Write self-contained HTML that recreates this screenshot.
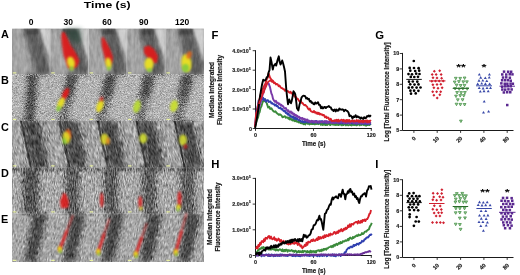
<!DOCTYPE html>
<html><head><meta charset="utf-8"><style>
html,body{margin:0;padding:0;background:#fff;width:520px;height:275px;overflow:hidden}
svg{display:block}
text{font-family:"Liberation Sans",sans-serif}
.k{stroke:#1a1a1a;stroke-width:0.16px}
</style></head><body>
<svg width="520" height="275" viewBox="0 0 520 275">
<defs>
<filter id="b0" x="-50%" y="-50%" width="200%" height="200%"><feGaussianBlur stdDeviation="0.5"/></filter>
<filter id="b1" x="-50%" y="-50%" width="200%" height="200%"><feGaussianBlur stdDeviation="1.2"/></filter>
<filter id="b2" x="-50%" y="-50%" width="200%" height="200%"><feGaussianBlur stdDeviation="2.5"/></filter>
<filter id="nzA" x="0" y="0" width="100%" height="100%" color-interpolation-filters="sRGB"><feTurbulence type="fractalNoise" baseFrequency="0.35 0.12" numOctaves="2" seed="3"/><feColorMatrix type="matrix" values="0.6 0 0 0 0.2  0.6 0 0 0 0.2  0.6 0 0 0 0.2  0 0 0 0 1"/></filter>
<filter id="nzB" x="0" y="0" width="100%" height="100%" color-interpolation-filters="sRGB"><feTurbulence type="fractalNoise" baseFrequency="1.5 1.1" numOctaves="2" seed="5"/><feColorMatrix type="matrix" values="1.3 0 0 0 -0.15  1.3 0 0 0 -0.15  1.3 0 0 0 -0.15  0 0 0 0 1"/></filter>
<filter id="nzC" x="0" y="0" width="100%" height="100%" color-interpolation-filters="sRGB"><feTurbulence type="fractalNoise" baseFrequency="0.9 0.18" numOctaves="2" seed="9"/><feColorMatrix type="matrix" values="1.1 0 0 0 -0.05  1.1 0 0 0 -0.05  1.1 0 0 0 -0.05  0 0 0 0 1"/></filter>
<filter id="nzD" x="0" y="0" width="100%" height="100%" color-interpolation-filters="sRGB"><feTurbulence type="fractalNoise" baseFrequency="0.9 0.25" numOctaves="2" seed="13"/><feColorMatrix type="matrix" values="1.0 0 0 0 0  1.0 0 0 0 0  1.0 0 0 0 0  0 0 0 0 1"/></filter>
<clipPath id="cC"><rect x="12" y="121" width="192" height="46.5"/></clipPath>
<clipPath id="cD"><rect x="12" y="167.5" width="192" height="46"/></clipPath>
<clipPath id="cE"><rect x="12" y="213.5" width="192" height="48.5"/></clipPath>
<linearGradient id="gblob" x1="0" y1="0" x2="0" y2="1">
<stop offset="0" stop-color="#e21c1c"/><stop offset="0.55" stop-color="#e8401a"/><stop offset="0.75" stop-color="#f2d21e"/><stop offset="1" stop-color="#7ed23a"/>
</linearGradient>
<linearGradient id="gyg" x1="0" y1="0" x2="0" y2="1">
<stop offset="0" stop-color="#f0a020"/><stop offset="0.4" stop-color="#e8e02a"/><stop offset="1" stop-color="#8ed040"/>
</linearGradient>
<clipPath id="cg"><rect x="12" y="28.5" width="192" height="233.5"/></clipPath>
</defs>

<g clip-path="url(#cg)">
<rect x="12" y="28.5" width="192" height="46" fill="#949494"/>
<rect x="12" y="74.5" width="192" height="46.5" fill="#b2b2b2"/>
<rect x="12" y="121" width="192" height="46.5" fill="#9a9a9a"/>
<rect x="12" y="167.5" width="192" height="46" fill="#a8a8a8"/>
<rect x="12" y="213.5" width="192" height="48.5" fill="#a6a6a6"/>
<polygon points="12,28.5 22,28.5 35,74.5 12,74.5" fill="#aaaaaa" opacity="0.75" filter="url(#b2)"/>
<polygon points="24,28.5 38,28.5 50.4,67.6 50.4,74.5 36,74.5" fill="#505050" opacity="0.8" filter="url(#b2)"/>
<polygon points="39.5,28.5 50.4,28.5 50.4,61.6" fill="#d2d2d2" opacity="0.95" filter="url(#b1)"/>
<polygon points="24,28.5 38,28.5 39,34.5 26,34.5" fill="#363636" opacity="0.6" filter="url(#b1)"/>
<polygon points="50.4,28.5 60.4,28.5 73.4,74.5 50.4,74.5" fill="#aaaaaa" opacity="0.75" filter="url(#b2)"/>
<polygon points="62.4,28.5 76.4,28.5 88.8,67.6 88.8,74.5 74.4,74.5" fill="#505050" opacity="0.8" filter="url(#b2)"/>
<polygon points="77.9,28.5 88.8,28.5 88.8,61.6" fill="#d2d2d2" opacity="0.95" filter="url(#b1)"/>
<polygon points="62.4,28.5 76.4,28.5 77.4,34.5 64.4,34.5" fill="#363636" opacity="0.6" filter="url(#b1)"/>
<polygon points="88.8,28.5 98.8,28.5 111.8,74.5 88.8,74.5" fill="#aaaaaa" opacity="0.75" filter="url(#b2)"/>
<polygon points="100.8,28.5 114.8,28.5 127.2,67.6 127.2,74.5 112.8,74.5" fill="#505050" opacity="0.8" filter="url(#b2)"/>
<polygon points="116.3,28.5 127.2,28.5 127.2,61.6" fill="#d2d2d2" opacity="0.95" filter="url(#b1)"/>
<polygon points="100.8,28.5 114.8,28.5 115.8,34.5 102.8,34.5" fill="#363636" opacity="0.6" filter="url(#b1)"/>
<polygon points="127.2,28.5 137.2,28.5 150.2,74.5 127.2,74.5" fill="#aaaaaa" opacity="0.75" filter="url(#b2)"/>
<polygon points="139.2,28.5 153.2,28.5 165.6,67.6 165.6,74.5 151.2,74.5" fill="#505050" opacity="0.8" filter="url(#b2)"/>
<polygon points="154.7,28.5 165.6,28.5 165.6,61.6" fill="#d2d2d2" opacity="0.95" filter="url(#b1)"/>
<polygon points="139.2,28.5 153.2,28.5 154.2,34.5 141.2,34.5" fill="#363636" opacity="0.6" filter="url(#b1)"/>
<polygon points="165.6,28.5 175.6,28.5 188.6,74.5 165.6,74.5" fill="#aaaaaa" opacity="0.75" filter="url(#b2)"/>
<polygon points="177.6,28.5 191.6,28.5 204,67.6 204,74.5 189.6,74.5" fill="#505050" opacity="0.8" filter="url(#b2)"/>
<polygon points="193.1,28.5 204,28.5 204,61.6" fill="#d2d2d2" opacity="0.95" filter="url(#b1)"/>
<polygon points="177.6,28.5 191.6,28.5 192.6,34.5 179.6,34.5" fill="#363636" opacity="0.6" filter="url(#b1)"/>
<polygon points="27,74.5 38,74.5 35,121 24.5,121" fill="#555555" opacity="0.85" filter="url(#b2)"/>
<polygon points="30,74.5 35,74.5 32,121 27,121" fill="#3a3a3a" opacity="0.6" filter="url(#b2)"/>
<polygon points="66.9,74.5 77.9,74.5 66.9,121 57.9,121" fill="#5e5e5e" opacity="0.75" filter="url(#b2)"/>
<polygon points="67.9,74.5 77.4,74.5 72.4,97.8 63.4,97.8" fill="#3e3e3e" opacity="0.7" filter="url(#b2)"/>
<polygon points="105.3,74.5 116.3,74.5 105.3,121 96.3,121" fill="#5e5e5e" opacity="0.75" filter="url(#b2)"/>
<polygon points="106.3,74.5 115.8,74.5 110.8,97.8 101.8,97.8" fill="#3e3e3e" opacity="0.7" filter="url(#b2)"/>
<polygon points="143.7,74.5 154.7,74.5 143.7,121 134.7,121" fill="#5e5e5e" opacity="0.75" filter="url(#b2)"/>
<polygon points="144.7,74.5 154.2,74.5 149.2,97.8 140.2,97.8" fill="#3e3e3e" opacity="0.7" filter="url(#b2)"/>
<polygon points="182.1,74.5 193.1,74.5 182.1,121 173.1,121" fill="#5e5e5e" opacity="0.75" filter="url(#b2)"/>
<polygon points="183.1,74.5 192.6,74.5 187.6,97.8 178.6,97.8" fill="#3e3e3e" opacity="0.7" filter="url(#b2)"/>
<polygon points="21,121 39,121 49,167.5 32,167.5" fill="#3e3e3e" opacity="0.85" filter="url(#b2)"/>
<polygon points="20,121 22,121 32,167.5 30,167.5" fill="#1e1e1e" opacity="0.9" filter="url(#b0)"/>
<polygon points="12,121 19.5,121 29.5,167.5 12,167.5" fill="#b0b0b0" opacity="0.55" filter="url(#b2)"/>
<polygon points="59.4,121 77.4,121 87.4,167.5 70.4,167.5" fill="#3e3e3e" opacity="0.85" filter="url(#b2)"/>
<polygon points="58.4,121 60.4,121 70.4,167.5 68.4,167.5" fill="#1e1e1e" opacity="0.9" filter="url(#b0)"/>
<polygon points="50.4,121 57.9,121 67.9,167.5 50.4,167.5" fill="#b0b0b0" opacity="0.55" filter="url(#b2)"/>
<polygon points="97.8,121 115.8,121 125.8,167.5 108.8,167.5" fill="#3e3e3e" opacity="0.85" filter="url(#b2)"/>
<polygon points="96.8,121 98.8,121 108.8,167.5 106.8,167.5" fill="#1e1e1e" opacity="0.9" filter="url(#b0)"/>
<polygon points="88.8,121 96.3,121 106.3,167.5 88.8,167.5" fill="#b0b0b0" opacity="0.55" filter="url(#b2)"/>
<polygon points="136.2,121 154.2,121 164.2,167.5 147.2,167.5" fill="#3e3e3e" opacity="0.85" filter="url(#b2)"/>
<polygon points="135.2,121 137.2,121 147.2,167.5 145.2,167.5" fill="#1e1e1e" opacity="0.9" filter="url(#b0)"/>
<polygon points="127.2,121 134.7,121 144.7,167.5 127.2,167.5" fill="#b0b0b0" opacity="0.55" filter="url(#b2)"/>
<polygon points="174.6,121 192.6,121 202.6,167.5 185.6,167.5" fill="#3e3e3e" opacity="0.85" filter="url(#b2)"/>
<polygon points="173.6,121 175.6,121 185.6,167.5 183.6,167.5" fill="#1e1e1e" opacity="0.9" filter="url(#b0)"/>
<polygon points="165.6,121 173.1,121 183.1,167.5 165.6,167.5" fill="#b0b0b0" opacity="0.55" filter="url(#b2)"/>
<polygon points="23,167.5 39,167.5 39,213.5 23,213.5" fill="#444444" opacity="0.85" filter="url(#b2)"/>
<polygon points="12,167.5 50.4,167.5 50.4,171.5 12,171.5" fill="#505050" opacity="0.5" filter="url(#b1)"/>
<polygon points="65.4,167.5 79.4,167.5 79.4,213.5 65.4,213.5" fill="#484848" opacity="0.8" filter="url(#b2)"/>
<polygon points="50.4,167.5 88.8,167.5 88.8,171.5 50.4,171.5" fill="#505050" opacity="0.5" filter="url(#b1)"/>
<polygon points="103.8,167.5 117.8,167.5 117.8,213.5 103.8,213.5" fill="#484848" opacity="0.8" filter="url(#b2)"/>
<polygon points="88.8,167.5 127.2,167.5 127.2,171.5 88.8,171.5" fill="#505050" opacity="0.5" filter="url(#b1)"/>
<polygon points="142.2,167.5 156.2,167.5 156.2,213.5 142.2,213.5" fill="#484848" opacity="0.8" filter="url(#b2)"/>
<polygon points="127.2,167.5 165.6,167.5 165.6,171.5 127.2,171.5" fill="#505050" opacity="0.5" filter="url(#b1)"/>
<polygon points="180.6,167.5 194.6,167.5 194.6,213.5 180.6,213.5" fill="#484848" opacity="0.8" filter="url(#b2)"/>
<polygon points="165.6,167.5 204,167.5 204,171.5 165.6,171.5" fill="#505050" opacity="0.5" filter="url(#b1)"/>
<polygon points="33,213.5 47,213.5 36.5,262 24.5,262" fill="#3c3c3c" opacity="0.9" filter="url(#b2)"/>
<polygon points="71.4,213.5 85.4,213.5 74.9,262 62.9,262" fill="#3c3c3c" opacity="0.9" filter="url(#b2)"/>
<polygon points="109.8,213.5 123.8,213.5 113.3,262 101.3,262" fill="#3c3c3c" opacity="0.9" filter="url(#b2)"/>
<polygon points="148.2,213.5 162.2,213.5 151.7,262 139.7,262" fill="#3c3c3c" opacity="0.9" filter="url(#b2)"/>
<polygon points="186.6,213.5 200.6,213.5 190.1,262 178.1,262" fill="#3c3c3c" opacity="0.9" filter="url(#b2)"/>
</g>
<rect x="12" y="28.5" width="192" height="46" fill="#000" filter="url(#nzA)" opacity="0.45" style="mix-blend-mode:overlay"/>
<rect x="12" y="74.5" width="192" height="46.5" fill="#000" filter="url(#nzB)" opacity="0.75" style="mix-blend-mode:overlay"/>
<g clip-path="url(#cC)" style="mix-blend-mode:overlay"><rect x="-10" y="90" width="240" height="110" fill="#000" filter="url(#nzC)" transform="rotate(-14.5 108 144)"/></g>
<g clip-path="url(#cD)" style="mix-blend-mode:overlay"><rect x="0" y="150" width="220" height="80" fill="#000" filter="url(#nzD)"/></g>
<g clip-path="url(#cE)" style="mix-blend-mode:overlay"><rect x="-10" y="190" width="240" height="100" fill="#000" filter="url(#nzD)" transform="rotate(10.5 108 238)"/></g>
<rect x="49.6" y="29" width="0.8" height="45.5" fill="#d8d8d8" opacity="0.6"/>
<rect x="88" y="29" width="0.8" height="45.5" fill="#d8d8d8" opacity="0.6"/>
<rect x="126.4" y="29" width="0.8" height="45.5" fill="#d8d8d8" opacity="0.6"/>
<rect x="164.8" y="29" width="0.8" height="45.5" fill="#d8d8d8" opacity="0.6"/>
<polygon points="65,29 81,29 81,46 70,40" fill="#2e4a3c" filter="url(#b2)" opacity="0.7"/>
<polygon points="62,32 64.5,32 67.5,38 70.5,45 74,50 77,55 79.5,61 77,67 72,69 68,68 66,62 63.5,55 62,45 61.3,37" fill="#dc1e1e" filter="url(#b1)" opacity="0.95"/>
<ellipse cx="71" cy="62.5" rx="3.8" ry="6" transform="rotate(-15 71 62.5)" fill="#e6dc28" filter="url(#b1)" opacity="1"/>
<ellipse cx="71.5" cy="68.5" rx="2.2" ry="2.2" transform="rotate(0 71.5 68.5)" fill="#8ccc3c" filter="url(#b1)" opacity="1"/>
<polygon points="101.5,38 103.5,37 107,43 110.5,50 113,57 112.5,62 109,66 106,62 104,55 102,47" fill="#dc1e1e" filter="url(#b1)" opacity="0.95"/>
<ellipse cx="108.5" cy="63" rx="3" ry="5.5" transform="rotate(-10 108.5 63)" fill="#e6dc28" filter="url(#b1)" opacity="1"/>
<ellipse cx="108.8" cy="68.5" rx="1.8" ry="2" transform="rotate(0 108.8 68.5)" fill="#8ccc3c" filter="url(#b1)" opacity="1"/>
<polygon points="144,47 149,45.5 154,49 158,56 157,63 152,63 147,57 144,53" fill="#dc1e1e" filter="url(#b1)" opacity="0.95"/>
<ellipse cx="149" cy="64" rx="4.5" ry="6.5" transform="rotate(0 149 64)" fill="#e6dc28" filter="url(#b1)" opacity="1"/>
<ellipse cx="149.5" cy="70" rx="2.5" ry="2" transform="rotate(0 149.5 70)" fill="#8ccc3c" filter="url(#b1)" opacity="1"/>
<ellipse cx="186.5" cy="63" rx="5" ry="9" transform="rotate(-8 186.5 63)" fill="#e6dc28" filter="url(#b1)" opacity="1"/>
<ellipse cx="185.5" cy="68" rx="3.5" ry="4" transform="rotate(0 185.5 68)" fill="#8ccc3c" filter="url(#b1)" opacity="1"/>
<ellipse cx="189" cy="55" rx="2.5" ry="4" transform="rotate(20 189 55)" fill="#e86a1e" filter="url(#b1)" opacity="0.85"/>
<ellipse cx="65.5" cy="94" rx="2.8" ry="6.5" transform="rotate(25 65.5 94)" fill="#dc1e1e" filter="url(#b1)" opacity="1"/>
<ellipse cx="61" cy="103" rx="3" ry="6" transform="rotate(25 61 103)" fill="#e6dc28" filter="url(#b1)" opacity="1"/>
<ellipse cx="58.5" cy="108.5" rx="2" ry="3" transform="rotate(25 58.5 108.5)" fill="#8ccc3c" filter="url(#b1)" opacity="1"/>
<ellipse cx="100" cy="106" rx="3.2" ry="6.5" transform="rotate(20 100 106)" fill="#e6dc28" filter="url(#b1)" opacity="1"/>
<ellipse cx="101.5" cy="99" rx="1.8" ry="2.5" transform="rotate(20 101.5 99)" fill="#dc1e1e" filter="url(#b1)" opacity="0.8"/>
<ellipse cx="137" cy="106.5" rx="3.5" ry="6.5" transform="rotate(15 137 106.5)" fill="#b8d83a" filter="url(#b1)" opacity="1"/>
<ellipse cx="174" cy="106" rx="3.8" ry="6" transform="rotate(15 174 106)" fill="#c8dc34" filter="url(#b1)" opacity="1"/>
<ellipse cx="68.5" cy="134" rx="2.6" ry="5" transform="rotate(-10 68.5 134)" fill="#e05a1e" filter="url(#b1)" opacity="0.9"/>
<ellipse cx="66.5" cy="137.5" rx="3.6" ry="6" transform="rotate(-10 66.5 137.5)" fill="#e6dc28" filter="url(#b1)" opacity="0.9"/>
<ellipse cx="64.5" cy="141" rx="2" ry="3.5" transform="rotate(-10 64.5 141)" fill="#8ccc3c" filter="url(#b1)" opacity="0.9"/>
<ellipse cx="104.5" cy="139" rx="3.8" ry="5.5" transform="rotate(0 104.5 139)" fill="#dcd82a" filter="url(#b1)" opacity="0.9"/>
<ellipse cx="108" cy="141" rx="1.8" ry="3.5" transform="rotate(0 108 141)" fill="#ec8a1e" filter="url(#b1)" opacity="0.85"/>
<ellipse cx="143.2" cy="138.5" rx="3.8" ry="5" transform="rotate(0 143.2 138.5)" fill="#d0dc30" filter="url(#b1)" opacity="0.9"/>
<ellipse cx="183" cy="140" rx="3.8" ry="5.5" transform="rotate(0 183 140)" fill="#d4dc30" filter="url(#b1)" opacity="0.9"/>
<ellipse cx="185.5" cy="146.5" rx="1.8" ry="2.6" transform="rotate(0 185.5 146.5)" fill="#dc1e1e" filter="url(#b1)" opacity="0.7"/>
<polygon points="63.5,192.5 66,194 69,202 68,208 61,208 60,201" fill="#dc1e1e" filter="url(#b1)" opacity="0.9"/>
<ellipse cx="101.7" cy="200" rx="1.8" ry="7.5" transform="rotate(0 101.7 200)" fill="#dc1e1e" filter="url(#b1)" opacity="0.85"/>
<ellipse cx="140.3" cy="202" rx="1.9" ry="6" transform="rotate(0 140.3 202)" fill="#dc1e1e" filter="url(#b1)" opacity="0.85"/>
<ellipse cx="141" cy="208.5" rx="1.6" ry="2" transform="rotate(0 141 208.5)" fill="#e6dc28" filter="url(#b1)" opacity="0.8"/>
<ellipse cx="179.5" cy="199" rx="2" ry="8" transform="rotate(0 179.5 199)" fill="#dc1e1e" filter="url(#b1)" opacity="0.85"/>
<ellipse cx="178.5" cy="207" rx="2.2" ry="2.8" transform="rotate(0 178.5 207)" fill="#e6dc28" filter="url(#b1)" opacity="0.9"/>
<ellipse cx="178" cy="210" rx="1.4" ry="1.4" transform="rotate(0 178 210)" fill="#8ccc3c" filter="url(#b1)" opacity="1"/>
<line x1="72.6" y1="216" x2="59.5" y2="250" stroke="#dc1e1e" stroke-width="2.1" stroke-linecap="round" filter="url(#b1)" opacity="0.5"/>
<line x1="66.7" y1="231.3" x2="59.5" y2="250" stroke="#dc1e1e" stroke-width="2.4" stroke-linecap="round" filter="url(#b1)" opacity="0.8"/>
<ellipse cx="59.8" cy="249" rx="2" ry="2.8" transform="rotate(0 59.8 249)" fill="#e6dc28" filter="url(#b1)" opacity="1"/>
<ellipse cx="60.3" cy="251.5" rx="1.5" ry="1.5" transform="rotate(0 60.3 251.5)" fill="#8ccc3c" filter="url(#b1)" opacity="1"/>
<line x1="109" y1="219.6" x2="98" y2="252.5" stroke="#dc1e1e" stroke-width="2.1" stroke-linecap="round" filter="url(#b1)" opacity="0.5"/>
<line x1="104" y1="234.4" x2="98" y2="252.5" stroke="#dc1e1e" stroke-width="2.4" stroke-linecap="round" filter="url(#b1)" opacity="0.8"/>
<ellipse cx="98.3" cy="251.5" rx="2" ry="2.8" transform="rotate(0 98.3 251.5)" fill="#e6dc28" filter="url(#b1)" opacity="1"/>
<ellipse cx="98.8" cy="254" rx="1.5" ry="1.5" transform="rotate(0 98.8 254)" fill="#8ccc3c" filter="url(#b1)" opacity="1"/>
<line x1="146.5" y1="224" x2="135.5" y2="255" stroke="#dc1e1e" stroke-width="2.1" stroke-linecap="round" filter="url(#b1)" opacity="0.5"/>
<line x1="141.6" y1="237.9" x2="135.5" y2="255" stroke="#dc1e1e" stroke-width="2.4" stroke-linecap="round" filter="url(#b1)" opacity="0.8"/>
<ellipse cx="135.8" cy="254" rx="2" ry="2.8" transform="rotate(0 135.8 254)" fill="#e6dc28" filter="url(#b1)" opacity="1"/>
<ellipse cx="136.3" cy="256.5" rx="1.5" ry="1.5" transform="rotate(0 136.3 256.5)" fill="#8ccc3c" filter="url(#b1)" opacity="1"/>
<line x1="186.3" y1="214" x2="175.5" y2="253" stroke="#dc1e1e" stroke-width="2.1" stroke-linecap="round" filter="url(#b1)" opacity="0.5"/>
<line x1="181.4" y1="231.6" x2="175.5" y2="253" stroke="#dc1e1e" stroke-width="2.4" stroke-linecap="round" filter="url(#b1)" opacity="0.8"/>
<ellipse cx="175.8" cy="252" rx="2" ry="2.8" transform="rotate(0 175.8 252)" fill="#e6dc28" filter="url(#b1)" opacity="1"/>
<ellipse cx="176.3" cy="254.5" rx="1.5" ry="1.5" transform="rotate(0 176.3 254.5)" fill="#8ccc3c" filter="url(#b1)" opacity="1"/>
<rect x="12.8" y="72.3" width="3.5" height="1.2" fill="#e8f0a0"/>
<rect x="51.2" y="72.3" width="3.5" height="1.2" fill="#e8f0a0"/>
<rect x="89.6" y="72.3" width="3.5" height="1.2" fill="#e8f0a0"/>
<rect x="128" y="72.3" width="3.5" height="1.2" fill="#e8f0a0"/>
<rect x="166.4" y="72.3" width="3.5" height="1.2" fill="#e8f0a0"/>
<rect x="12.8" y="118.8" width="3.5" height="1.2" fill="#e8f0a0"/>
<rect x="51.2" y="118.8" width="3.5" height="1.2" fill="#e8f0a0"/>
<rect x="89.6" y="118.8" width="3.5" height="1.2" fill="#e8f0a0"/>
<rect x="128" y="118.8" width="3.5" height="1.2" fill="#e8f0a0"/>
<rect x="166.4" y="118.8" width="3.5" height="1.2" fill="#e8f0a0"/>
<rect x="12.8" y="165.3" width="3.5" height="1.2" fill="#e8f0a0"/>
<rect x="51.2" y="165.3" width="3.5" height="1.2" fill="#e8f0a0"/>
<rect x="89.6" y="165.3" width="3.5" height="1.2" fill="#e8f0a0"/>
<rect x="128" y="165.3" width="3.5" height="1.2" fill="#e8f0a0"/>
<rect x="166.4" y="165.3" width="3.5" height="1.2" fill="#e8f0a0"/>
<rect x="12.8" y="211.3" width="3.5" height="1.2" fill="#e8f0a0"/>
<rect x="51.2" y="211.3" width="3.5" height="1.2" fill="#e8f0a0"/>
<rect x="89.6" y="211.3" width="3.5" height="1.2" fill="#e8f0a0"/>
<rect x="128" y="211.3" width="3.5" height="1.2" fill="#e8f0a0"/>
<rect x="166.4" y="211.3" width="3.5" height="1.2" fill="#e8f0a0"/>
<rect x="12.8" y="259.8" width="3.5" height="1.2" fill="#e8f0a0"/>
<rect x="51.2" y="259.8" width="3.5" height="1.2" fill="#e8f0a0"/>
<rect x="89.6" y="259.8" width="3.5" height="1.2" fill="#e8f0a0"/>
<rect x="128" y="259.8" width="3.5" height="1.2" fill="#e8f0a0"/>
<rect x="166.4" y="259.8" width="3.5" height="1.2" fill="#e8f0a0"/>
<text x="83.8" y="8.1" font-size="9.6" font-weight="bold" textLength="46.8" lengthAdjust="spacingAndGlyphs">Time (s)</text>
<text x="31.1" y="24.8" font-size="8.5" font-weight="bold" text-anchor="middle">0</text>
<text x="68.2" y="24.8" font-size="8.5" font-weight="bold" text-anchor="middle">30</text>
<text x="107" y="24.8" font-size="8.5" font-weight="bold" text-anchor="middle">60</text>
<text x="143.8" y="24.8" font-size="8.5" font-weight="bold" text-anchor="middle">90</text>
<text x="182.1" y="24.8" font-size="8.5" font-weight="bold" text-anchor="middle">120</text>
<text x="0.9" y="38.2" font-size="10.9" font-weight="bold">A</text>
<text x="0.9" y="84.3" font-size="10.9" font-weight="bold">B</text>
<text x="0.9" y="130.5" font-size="10.9" font-weight="bold">C</text>
<text x="0.9" y="176.6" font-size="10.9" font-weight="bold">D</text>
<text x="0.9" y="222.8" font-size="10.9" font-weight="bold">E</text>
<path d="M255.5 50.2V128.5H371.8" fill="none" stroke="#1a1a1a" stroke-width="1"/>
<line x1="252.7" y1="128.5" x2="255.5" y2="128.5" stroke="#222" stroke-width="0.9"/>
<text class="k" x="251.9" y="130.5" font-size="5.4" font-weight="bold" text-anchor="end" fill="#222">0</text>
<line x1="252.7" y1="109" x2="255.5" y2="109" stroke="#222" stroke-width="0.9"/>
<text class="k" x="232.3" y="111" font-size="4.7" font-weight="bold" fill="#2a2a2a" textLength="16.4" lengthAdjust="spacingAndGlyphs">1.0×10</text>
<text class="k" x="249.1" y="108.3" font-size="3" font-weight="bold" fill="#444">5</text>
<line x1="252.7" y1="89.6" x2="255.5" y2="89.6" stroke="#222" stroke-width="0.9"/>
<text class="k" x="232.3" y="91.5" font-size="4.7" font-weight="bold" fill="#2a2a2a" textLength="16.4" lengthAdjust="spacingAndGlyphs">2.0×10</text>
<text class="k" x="249.1" y="88.9" font-size="3" font-weight="bold" fill="#444">5</text>
<line x1="252.7" y1="70.2" x2="255.5" y2="70.2" stroke="#222" stroke-width="0.9"/>
<text class="k" x="232.3" y="72.1" font-size="4.7" font-weight="bold" fill="#2a2a2a" textLength="16.4" lengthAdjust="spacingAndGlyphs">3.0×10</text>
<text class="k" x="249.1" y="69.5" font-size="3" font-weight="bold" fill="#444">5</text>
<line x1="252.7" y1="50.7" x2="255.5" y2="50.7" stroke="#222" stroke-width="0.9"/>
<text class="k" x="232.3" y="52.6" font-size="4.7" font-weight="bold" fill="#2a2a2a" textLength="16.4" lengthAdjust="spacingAndGlyphs">4.0×10</text>
<text class="k" x="249.1" y="50" font-size="3" font-weight="bold" fill="#444">5</text>
<line x1="255.5" y1="128.5" x2="255.5" y2="130.9" stroke="#222" stroke-width="0.9"/>
<text class="k" x="255.5" y="137.3" font-size="5.4" font-weight="bold" text-anchor="middle" fill="#222">0</text>
<line x1="313.5" y1="128.5" x2="313.5" y2="130.9" stroke="#222" stroke-width="0.9"/>
<text class="k" x="313.5" y="137.3" font-size="5.4" font-weight="bold" text-anchor="middle" fill="#222">60</text>
<line x1="371.3" y1="128.5" x2="371.3" y2="130.9" stroke="#222" stroke-width="0.9"/>
<text class="k" x="371.3" y="137.3" font-size="5.4" font-weight="bold" text-anchor="middle" fill="#222">120</text>
<text class="k" x="313.7" y="146.1" font-size="6.6" font-weight="bold" text-anchor="middle" textLength="23.5" lengthAdjust="spacingAndGlyphs" fill="#111">Time (s)</text>
<text x="211.4" y="38.5" font-size="11.3" font-weight="bold">F</text>
<path d="M255.5 177.9V255.5H371.8" fill="none" stroke="#1a1a1a" stroke-width="1"/>
<line x1="252.7" y1="255.5" x2="255.5" y2="255.5" stroke="#222" stroke-width="0.9"/>
<text class="k" x="251.9" y="257.5" font-size="5.4" font-weight="bold" text-anchor="end" fill="#222">0</text>
<line x1="252.7" y1="229.8" x2="255.5" y2="229.8" stroke="#222" stroke-width="0.9"/>
<text class="k" x="232.3" y="231.7" font-size="4.7" font-weight="bold" fill="#2a2a2a" textLength="16.4" lengthAdjust="spacingAndGlyphs">1.0×10</text>
<text class="k" x="249.1" y="229.1" font-size="3" font-weight="bold" fill="#444">5</text>
<line x1="252.7" y1="204.1" x2="255.5" y2="204.1" stroke="#222" stroke-width="0.9"/>
<text class="k" x="232.3" y="206" font-size="4.7" font-weight="bold" fill="#2a2a2a" textLength="16.4" lengthAdjust="spacingAndGlyphs">2.0×10</text>
<text class="k" x="249.1" y="203.4" font-size="3" font-weight="bold" fill="#444">5</text>
<line x1="252.7" y1="178.4" x2="255.5" y2="178.4" stroke="#222" stroke-width="0.9"/>
<text class="k" x="232.3" y="180.3" font-size="4.7" font-weight="bold" fill="#2a2a2a" textLength="16.4" lengthAdjust="spacingAndGlyphs">3.0×10</text>
<text class="k" x="249.1" y="177.7" font-size="3" font-weight="bold" fill="#444">5</text>
<line x1="255.5" y1="255.5" x2="255.5" y2="257.9" stroke="#222" stroke-width="0.9"/>
<text class="k" x="255.5" y="264.3" font-size="5.4" font-weight="bold" text-anchor="middle" fill="#222">0</text>
<line x1="313.5" y1="255.5" x2="313.5" y2="257.9" stroke="#222" stroke-width="0.9"/>
<text class="k" x="313.5" y="264.3" font-size="5.4" font-weight="bold" text-anchor="middle" fill="#222">60</text>
<line x1="371.3" y1="255.5" x2="371.3" y2="257.9" stroke="#222" stroke-width="0.9"/>
<text class="k" x="371.3" y="264.3" font-size="5.4" font-weight="bold" text-anchor="middle" fill="#222">120</text>
<text class="k" x="313.7" y="273.1" font-size="6.6" font-weight="bold" text-anchor="middle" textLength="23.5" lengthAdjust="spacingAndGlyphs" fill="#111">Time (s)</text>
<text x="211.3" y="168.4" font-size="11.3" font-weight="bold">H</text>
<text class="k" transform="translate(214.2 89.9) rotate(-90)" font-size="6.3" font-weight="bold" text-anchor="middle" textLength="56" lengthAdjust="spacingAndGlyphs" fill="#111">Median Integrated</text>
<text class="k" transform="translate(222.4 89.9) rotate(-90)" font-size="6.3" font-weight="bold" text-anchor="middle" textLength="70" lengthAdjust="spacingAndGlyphs" fill="#111">Fluorescence Intensity</text>
<text class="k" transform="translate(212.4 217) rotate(-90)" font-size="6.3" font-weight="bold" text-anchor="middle" textLength="56" lengthAdjust="spacingAndGlyphs" fill="#111">Median Integrated</text>
<text class="k" transform="translate(220.4 217) rotate(-90)" font-size="6.3" font-weight="bold" text-anchor="middle" textLength="69" lengthAdjust="spacingAndGlyphs" fill="#111">Fluorescence Intensity</text>
<polyline points="255,127 256,123 257,119.8 258,117.7 258.9,113.5 259.7,112.1 260.5,108 261.4,106.4 262.2,103.6 263,101 264,101.3 265,99.1 265.9,101.8 266.8,103.4 268.2,107.6 269.3,106.8 270.3,109 271.4,108.3 272.5,110.1 273.6,111.4 274.5,111.8 275.4,111.2 276.2,112.5 277.1,113.4 278,114 278.9,114.9 279.8,114.3 280.6,114.7 281.5,115.4 282.4,117.2 283.3,117.1 284.1,116.4 285,116.3 285.8,117.7 286.7,117.3 287.5,117.5 288.4,118.7 289.2,117.7 290,119.5 290.8,118.5 291.6,119.8 292.5,120.5 293.3,119.1 294.1,120.8 294.9,121.3 295.7,119.9 296.5,121.5 297.3,121.9 298.1,121.4 299,122.6 299.8,121.6 300.6,123.1 301.4,123.4 302.2,122.2 303,123.7 303.8,124.3 304.6,123.1 305.4,124.4 306.2,122.6 307,122.9 307.9,123.9 308.7,122.6 309.5,124.4 310.3,122.8 311.1,124.1 311.9,122.9 312.7,124.1 313.5,122.9 314.3,124.2 315.1,124.2 316,123.4 316.8,124.1 317.6,123.4 318.4,124.2 319.2,123.1 320,123.3 320.8,124.7 321.6,123.8 322.4,125 323.2,123.1 324,124.8 324.9,123.3 325.7,125.1 326.5,123.5 327.3,125 328.1,123.4 328.9,123.2 329.7,124.9 330.5,125.1 331.3,123.3 332.1,123.5 333,124.7 333.8,123.5 334.6,124.9 335.4,125.1 336.2,123.7 337,124.9 337.8,123.4 338.6,125.1 339.4,123.6 340.2,124.7 341,123.7 341.9,125.3 342.7,124.1 343.5,125.1 344.3,124 345.1,123.7 345.9,125.3 346.7,123.7 347.5,125 348.3,125.4 349.1,125 350,124 350.8,125.1 351.6,125.4 352.4,123.5 353.2,124.9 354,124.1 354.8,125.1 355.6,124 356.4,125.4 357.2,125.1 358,124.4 358.9,124.4 359.7,125.3 360.5,123.8 361.3,125 362.1,124.4 362.9,124.3 363.7,124.9 364.5,124.1 365.3,125.4 366.1,125.7 367,124.4 367.8,125.1 368.6,124.2 369.4,125.1 370.2,124.3 371,124.8" fill="none" stroke="#3a8a3a" stroke-width="1.9" stroke-linejoin="round"/>
<polyline points="255,126 256.5,111.3 257.6,106.8 258.6,100.5 259.8,101.1 261,98.8 262.1,99.7 263.2,97.8 264.1,100.2 265.1,99.3 266,101.7 267,100.2 268,100.3 268.9,102.1 269.7,101.5 270.5,101.4 271.4,103.5 272.3,103 273.2,104.2 274.1,104.1 275,105.6 275.9,104.6 276.8,106.2 277.7,106 278.6,107.8 279.6,108.2 280.5,107.6 281.4,109.4 282.3,108.9 283.2,110.6 284.1,111.4 284.9,110.7 285.8,112.9 286.7,112.5 287.6,114.5 288.5,113.7 289.4,115.8 290.2,115.2 291.1,117 292,116.4 292.8,117.8 293.7,116.7 294.5,119 295.4,117.4 296.2,119.1 297.1,118.1 297.9,119.8 298.8,120.2 299.6,119.9 300.5,121.2 301.3,121.8 302.2,120.9 303,122.3 303.8,122.2 304.6,120.9 305.4,122.3 306.2,120.6 307,121.3 307.9,122.5 308.7,120.7 309.5,122.4 310.3,121.3 311.1,122.1 311.9,121 312.7,122.7 313.5,121.4 314.3,122.8 315.1,121.2 316,120.9 316.8,121.4 317.6,122.8 318.4,122.6 319.2,121.5 320,122.7 320.8,121.3 321.6,121.2 322.4,121.1 323.2,122.9 324,121.8 324.9,122.6 325.7,122.9 326.5,121.5 327.3,122.8 328.1,121.7 328.9,122.8 329.7,121.5 330.5,122.6 331.3,121.6 332.1,121.6 333,121.9 333.8,123 334.6,122.1 335.4,122.9 336.2,122 337,122.3 337.8,122.9 338.6,122 339.4,123.5 340.2,121.8 341,123.2 341.9,121.8 342.7,123.2 343.5,123.6 344.3,122.1 345.1,122.2 345.9,123.5 346.7,123.4 347.5,122.3 348.3,123.3 349.1,122.4 350,123.2 350.8,122.3 351.6,123.2 352.4,123.4 353.2,123.7 354,122.1 354.8,122.6 355.6,123.8 356.4,123.8 357.2,123.6 358,122.7 358.9,123.6 359.7,122.6 360.5,122.9 361.3,123.6 362.1,123.9 362.9,122.4 363.7,122.4 364.5,124.1 365.3,123 366.1,122.5 367,124.3 367.8,123 368.6,123.8 369.4,122.7 370.2,123.8 371,123.5" fill="none" stroke="#3040b0" stroke-width="1.9" stroke-linejoin="round"/>
<polyline points="255,126 256,120.6 257,117.5 258,111.6 259,108.7 260,104.4 261,101.4 262,97.1 263,93.6 264,91.4 264.8,88.1 265.7,86.2 266.5,84.2 267.6,82.9 268.6,83.4 270,87.2 271.4,93.5 272.2,95.2 273,98.8 274,100.6 275,101.8 275.9,100.8 276.8,103 277.7,102.5 278.6,104.1 279.5,103.6 280.5,105.3 281.4,104.8 282.3,106.4 283.2,106.2 284.1,108.1 284.9,108.6 285.8,107.9 286.7,109.8 287.5,110.9 288.4,110.3 289.2,112.1 290,112.6 290.8,111.4 291.6,113.6 292.5,112.5 293.3,114.8 294.1,113.8 295,115.7 295.8,114.7 296.6,116.4 297.5,115.8 298.3,117.4 299.2,116.8 300,118.6 300.8,117.7 301.7,118.9 302.5,117.9 303.3,119.6 304.2,118.8 305,120.3 305.8,119.2 306.7,120.8 307.5,119.6 308.3,121.5 309.2,120.8 310,122.1 310.8,122.3 311.6,120.8 312.4,121.2 313.2,122.1 314,121.2 314.8,122.1 315.6,121.1 316.4,122.5 317.2,121.5 318,121.3 318.8,122.4 319.6,121.3 320.4,122.1 321.2,122.1 322,122.2 322.8,121.3 323.6,122.1 324.4,121.3 325.2,120.9 326.1,122.5 326.9,121.1 327.7,122.8 328.5,121.7 329.3,122.4 330.1,122.3 330.9,121.5 331.7,122.9 332.5,121.3 333.3,123 334.1,121.2 334.9,122.8 335.7,121.3 336.5,121.9 337.3,122.8 338.1,122.8 338.9,121.2 339.7,122.5 340.5,122 341.3,122.6 342.1,121.4 342.9,121.5 343.7,123 344.5,123.1 345.3,121.6 346.1,122.8 346.9,123 347.7,121.6 348.5,122.7 349.3,122.1 350.1,123.4 350.9,121.6 351.7,122 352.5,121.7 353.3,123 354.1,121.7 354.9,123 355.8,122 356.6,123.3 357.4,121.8 358.2,123 359,122.3 359.8,122.1 360.6,123.6 361.4,122 362.2,123.3 363,123 363.8,123.1 364.6,123.2 365.4,122.3 366.2,122.5 367,123.6 367.8,122.3 368.6,123.5 369.4,123.4 370.2,122.7 371,123" fill="none" stroke="#7a3aa8" stroke-width="1.9" stroke-linejoin="round"/>
<polyline points="255,127 256.2,113.2 257.1,111 258,105.6 259.5,99.1 261,93.3 262,92.3 263,88.6 264.5,85 265.5,83.6 266.5,79.7 267.6,77.7 268.6,73.3 270,77.5 271.4,79.8 272.3,80.4 273.2,81 274.1,83.2 275,82.7 275.9,84.4 276.8,84 277.7,84.3 278.6,86.2 279.5,85.5 280.5,87.3 281.4,88 282.3,88.2 283.2,89.2 284.1,89.2 285,90.7 285.9,89.9 286.8,91.5 287.7,91 288.6,91.9 289.6,92.7 290.5,91.7 291.5,93.5 292.4,93 293.4,94.1 294.4,96.2 295.3,96.9 296.2,97.1 297.1,99.1 298,99 298.9,100.7 299.8,101.7 300.8,100.8 301.7,102.9 302.6,102.9 303.5,104.4 304.4,105.2 305.3,104.9 306.2,106 307.1,106.7 308,108.7 308.9,109.6 309.8,108.6 310.6,110.8 311.5,111.6 312.3,111.7 313.1,112.3 313.9,110.9 314.8,112.6 315.6,112.1 316.4,113.5 317.2,112.6 318,113.9 318.8,112.7 319.6,114.4 320.5,113.8 321.3,114.7 322.1,114.4 322.9,115.4 323.9,114.9 325,117.3 326,116.4 326.8,118 327.6,117.4 328.4,117.6 329.2,119.7 330,120.1 330.8,118.8 331.7,120.9 332.5,121 333.4,120.6 334.2,121 335,120.1 335.8,120.8 336.6,119.8 337.4,121.3 338.2,119.7 339,121.4 339.8,120.5 340.6,120.3 341.4,119.8 342.2,119.9 343,121.3 343.8,119.8 344.6,121.1 345.4,121.7 346.2,119.9 347,121.7 347.8,119.9 348.6,121.4 349.4,120.1 350.2,121.6 351,121.5 351.8,120.7 352.6,120.4 353.4,121.6 354.2,120.6 355,121.4 355.8,121.4 356.6,120.1 357.4,121.3 358.2,120.3 359,121.9 359.8,120.7 360.6,121.8 361.4,120.8 362.2,121.9 363,120.5 363.8,122 364.6,120.6 365.4,120.7 366.2,121.9 367,120.3 367.8,122.2 368.6,120.9 369.4,122 370.2,120.6 371,121.3" fill="none" stroke="#d8202a" stroke-width="1.9" stroke-linejoin="round"/>
<polyline points="255,128.6 256,123.5 257,117.7 258,111.3 259,104.3 260,96.5 261,90.5 262.1,84.2 263.2,79.7 264.1,80.5 265,80.4 265.9,79.4 266.8,77.1 267.7,76.8 268.6,72.4 269.5,70.2 270.5,57.5 271.5,62 272.8,69.5 273.6,65.9 274.5,65 275.4,63.7 276.2,65.6 277.5,60.3 278.8,56.3 279.6,61.6 280.5,64.5 281.4,62.8 282.2,60.5 283,63.1 283.9,66.5 285,71.5 286.2,88.3 287.1,97.1 288,104.2 289.3,99.5 290.1,102.2 291,103.2 291.8,100.6 292.7,96.1 293.5,91.2 294.4,92.5 295.3,94.5 296.1,100.7 297,108.3 298.4,110.4 299.5,104.8 300.7,100.7 301.6,97.3 302.5,96.3 303.4,95.7 304.4,95.9 305.3,96.4 306.2,98.6 307.1,97.9 308,99.3 308.9,98.8 309.8,101.5 310.7,100.9 311.6,102.8 312.5,102.4 313.4,104 314.3,104.3 315.2,102.4 316.2,103.6 317.1,103.2 318,102.2 319,104.9 320,105 321,108.3 321.8,106.7 322.6,108.2 323.4,108.2 324.3,106.9 325.1,107 325.9,108.1 326.7,107.2 328,106.6 328.9,106 329.8,107.1 330.8,107.4 331.7,109.6 332.6,109.6 333.6,111.1 334.7,109.4 335.7,111.4 336.6,109.6 337.5,110.7 338.5,110.5 339.4,108.5 340.3,109.4 341.2,109.7 342.2,109.3 343.2,109.7 344.1,111.2 345.2,109.7 346.4,110.6 347.4,111.1 348.5,112.5 349.5,116.2 350.5,115.5 351.5,116.4 352.5,118.5 353.5,116.4 354.6,117.1 355.6,115.2 356.6,117.3 357.6,116.3 358.6,117.2 359.5,117.1 360.4,118.8 361.4,117.4 362.3,118.5 363.2,118.9 364.1,117.2 365,118.2 366,118 366.9,116.2 367.8,116.5 368.8,115.5 369.9,116.4 370.9,115.2" fill="none" stroke="#000" stroke-width="1.9" stroke-linejoin="round"/>
<polyline points="259,104 260,101 261,99 262,96.3 262.8,93.4 263.7,92.8 264.5,89.6 265.5,87.8 266.5,85.4 267.5,82.4 268.5,81.6 270,80.4 271,81.2 272,82 273,81.9 274,83" fill="none" stroke="#d8202a" stroke-width="1.6" stroke-linejoin="round"/>
<polyline points="256,255.3 256.8,255.6 257.6,254.3 258.4,255.6 259.2,254.8 260,254.9 260.8,254.8 261.6,256.2 262.4,254.4 263.2,255.5 264.1,256 264.9,254.9 265.7,254.6 266.5,254.5 267.3,254.6 268.1,256 268.9,254.3 269.7,256.1 270.5,256 271.3,254.4 272.1,255.6 272.9,254.7 273.7,256.2 274.5,254.7 275.3,256 276.1,255.7 276.9,254.6 277.8,256 278.6,254.8 279.4,255.9 280.2,254.3 281,255.8 281.8,254.4 282.6,254.7 283.4,255.6 284.2,255.6 285,254.8 285.8,255.8 286.6,255.1 287.4,256.1 288.2,254.9 289,255.5 289.8,254.4 290.6,254.7 291.4,254.7 292.2,256 293.1,256.1 293.9,254.5 294.7,255.8 295.5,256.2 296.3,254.3 297.1,255.9 297.9,254.8 298.7,256.1 299.5,254.9 300.3,256.3 301.1,255 301.9,255.7 302.7,255.6 303.5,255 304.3,255.7 305.1,254.5 305.9,254.4 306.8,255.8 307.6,255.5 308.4,254.7 309.2,256.1 310,254.7 310.8,255.7 311.6,255 312.4,255.6 313.2,256 314,254.7 314.8,255.5 315.6,255.1 316.4,255.1 317.2,256.3 318,255.7 318.8,255 319.6,256.2 320.4,255.5 321.2,254.6 322.1,256.1 322.9,255.9 323.7,254.4 324.5,255.7 325.3,255 326.1,254.7 326.9,256.2 327.7,255.7 328.5,254.4 329.3,254.8 330.1,255.7 330.9,255.1 331.7,255.7 332.5,254.3 333.3,255.9 334.1,256 334.9,254.5 335.8,256.3 336.6,254.5 337.4,255 338.2,255.6 339,254.3 339.8,254.8 340.6,256.1 341.4,254.3 342.2,254.5 343,254.5 343.9,254.4 344.8,252.2 345.8,252.2 346.7,249.7 347.6,248.9 348.5,247.7 349.4,248.3 350.2,246.9 351.1,246.5 352,247.4 352.8,246.7 353.6,244.9 354.4,245.9 355.2,244.8 356.1,245.2 356.9,243.6 357.7,243.9 358.5,244.7 359.4,243 360.2,243.2 361.1,242.7 362,240.8 362.8,241.6 363.7,241 364.6,239.2 365.4,239.3 366.3,237.8 367.2,237.3 368.1,237.6 369.1,235.9 370,234.7 370.9,235 371.8,233.8" fill="none" stroke="#3040b0" stroke-width="1.9" stroke-linejoin="round"/>
<polyline points="256,255.3 256.8,255 257.6,255.5 258.4,254.9 259.2,255 260,255.4 260.8,255.1 261.6,255.4 262.4,255.4 263.2,255.2 264,254.9 264.8,255 265.6,255.4 266.4,255.1 267.2,255 268,255.5 268.8,254.8 269.6,255.5 270.4,255 271.2,255.3 272,255.3 272.8,255.3 273.6,255.5 274.4,255.5 275.2,254.8 276,255.4 276.8,255.3 277.6,255.5 278.4,254.9 279.2,255.3 280,255.3 280.8,255 281.6,255.5 282.4,254.9 283.2,255.4 284,254.8 284.8,255.4 285.6,254.9 286.4,255.4 287.2,254.8 288,255.2 288.8,254.7 289.6,254.8 290.4,255.3 291.2,255.4 292,254.6 292.8,254.7 293.6,254.8 294.4,255.2 295.2,255.1 296,254.7 296.8,254.8 297.6,254.9 298.4,255.1 299.2,254.8 300,255.1 300.8,255.4 301.6,254.7 302.4,255.3 303.2,254.6 304,255.1 304.8,255.3 305.6,255.2 306.4,254.6 307.2,254.7 308,255.1 308.8,255 309.6,254.5 310.4,255.2 311.2,254.5 312,255 312.8,254.5 313.6,254.7 314.4,255 315.2,254.6 316,255.2 316.8,254.7 317.6,255 318.4,254.7 319.2,255 320,254.5 320.8,254.9 321.6,254.4 322.4,254.5 323.2,255 324,254.5 324.8,255.1 325.6,254.5 326.4,254.9 327.2,254.6 328,254.6 328.8,255 329.6,254.8 330.4,254.5 331.2,255.1 332,254.4 332.8,255 333.6,254.4 334.4,254.5 335.2,255.1 336,254.6 336.8,255 337.6,254.9 338.4,254.6 339.2,254.9 340,254.4 340.8,254.8 341.6,254.4 342.4,254.9 343.2,254.9 344,254.5 344.8,254.9 345.6,254.2 346.4,254.8 347.2,254.3 348,254.3 348.8,254.9 349.6,254.2 350.4,254.9 351.2,254.2 352,254.8 352.8,254.9 353.6,254.6 354.4,254.4 355.2,254.7 356,254.4 356.8,254.9 357.6,254.3 358.4,254.9 359.2,254.4 360,254.8 360.8,254 361.7,253.7 362.5,253.9 363.3,252.9 364.2,253.1 365,252.3 365.9,252.1 366.7,252.3 367.6,251.7 368.4,251.8 369.3,251 370.1,251.6 371,251" fill="none" stroke="#6a3098" stroke-width="1.9" stroke-linejoin="round"/>
<polyline points="256,252 256.9,252.3 257.7,251 258.6,249.5 259.4,249.7 260.3,248.2 261.1,248.7 262,247.2 262.8,248.2 263.6,247 264.4,248.2 265.2,248.8 266,247.6 266.8,247.9 267.6,248.1 268.4,249.4 269.2,248.6 270,249.8 270.8,248.5 271.7,249.5 272.5,248.8 273.3,249 274.2,249.7 275,249.1 275.8,250.4 276.7,249.2 277.5,250.2 278.3,250.5 279.2,249.6 280,249.2 280.8,249.7 281.7,251.1 282.5,249.3 283.3,251.3 284.2,249.9 285,251.3 285.8,249.6 286.7,249.7 287.5,251.7 288.3,250.2 289.2,250.3 290,251.1 290.8,250.5 291.7,250 292.5,251.3 293.3,250.7 294.2,252 295,250.6 295.8,250.7 296.7,252.2 297.5,252.2 298.3,250.9 299.2,252.3 300,251.1 300.8,252 301.6,252.2 302.4,250.7 303.2,252.2 304,250.9 304.8,251.2 305.6,251.3 306.4,252.2 307.2,250.9 308,252.2 308.8,251.4 309.6,252.4 310.4,250.7 311.2,252.4 312,251.1 312.8,251.9 313.6,251.1 314.4,252.3 315.2,251.1 316,252.6 316.8,250.6 317.7,250.6 318.5,250.2 319.4,251.2 320.2,250 321.1,251.2 321.9,249.5 322.8,250.6 323.6,248.9 324.5,249.7 325.3,248.7 326.2,249.7 327,248.3 327.8,248.5 328.6,247.3 329.4,247.1 330.2,246.8 331,246.1 331.8,247.3 332.6,245.7 333.4,246.7 334.2,244.7 335,245.8 335.8,244.5 336.6,243.7 337.4,245 338.2,244 339,242.7 339.8,243.8 340.6,241.9 341.4,243.1 342.2,242.6 343,241.1 343.8,241.5 344.6,241.3 345.4,240.2 346.3,240.9 347.1,240.5 347.9,238.9 348.7,240.2 349.5,238 350.3,237.6 351.2,238.8 352,238.8 352.8,237.1 353.6,238.1 354.4,236.6 355.2,236.9 356.1,235.8 356.9,235.3 357.7,236 358.5,234.6 359.4,235.2 360.2,235.1 361.1,234.6 362,233 362.8,234.1 363.7,233.5 364.5,232.1 365.4,231.4 366.3,231.7 367.1,230.5 368,229.8 368.9,229.4 369.9,226.4 370.9,225 371.8,222.8" fill="none" stroke="#3a8a3a" stroke-width="1.9" stroke-linejoin="round"/>
<polyline points="256,249 256.8,246.7 257.6,248.5 258.4,244.9 259.2,246.2 260,242.9 260.8,244.4 261.6,241.1 262.4,241.2 263.2,242.2 264,239.2 264.8,240.9 265.6,237.8 266.4,238 267.2,238.7 268,236.8 269,235.9 270,238.5 271,236.6 271.8,238.7 272.6,239.3 273.4,238.8 274.2,237.2 275,239.9 275.9,238.8 276.7,240.7 277.6,240.3 278.4,238.6 279.3,239.5 280.1,241.8 281,239.9 281.9,242.1 282.7,242.5 283.6,240.8 284.4,243 285.3,242 286.1,242.5 287,243.9 287.8,242.7 288.6,244.5 289.5,241.7 290.3,244.3 291.1,242 291.9,243.6 292.7,242.1 293.5,243.3 294.4,243.8 295.2,242.1 296,243.3 296.9,242.2 297.8,245 298.7,243.6 299.6,244.3 300.5,246.4 301.4,245.5 302.3,248.2 303.1,247.4 304,246.4 304.8,244.8 305.7,246 306.5,242.8 307.4,244.8 308.2,241.7 309.1,242.1 309.9,242.4 310.8,241 311.6,239.9 312.5,241.1 313.3,239.3 314.2,240.7 315.1,240.9 315.9,240 316.8,238.4 317.7,240.1 318.5,237 319.4,239 320.3,237 321.1,238.4 322,237.7 322.9,236.4 323.7,238 324.6,235.3 325.5,237.1 326.3,235.1 327.2,235.8 328.1,236.2 328.9,234.2 329.8,235.6 330.6,233.6 331.4,234.5 332.3,234.6 333.1,233.9 334,232.1 334.8,232 335.7,233.8 336.5,233.1 337.3,231.5 338.1,233 338.9,230.5 339.8,231.6 340.6,229.8 341.4,229.1 342.2,231.3 343,230.8 343.9,228.7 344.7,229.8 345.6,227.7 346.4,228.9 347.3,228 348.1,225.4 349,226.9 349.9,224.3 350.7,226.6 351.6,223.9 352.5,224.2 353.3,224.5 354.2,222.9 355,222.6 355.9,221.9 356.8,222 357.6,223.4 358.5,220.9 359.4,222.8 360.2,222.9 361.1,220.7 362,222.4 362.8,219.9 363.7,220.8 364.6,219.5 365.4,221.1 366.3,219.1 367.3,219.1 368.4,216.9 369.4,213.9 370.2,213.4 371,210" fill="none" stroke="#d8202a" stroke-width="1.9" stroke-linejoin="round"/>
<polyline points="256,255 256.8,253.1 257.6,253.6 258.4,252.7 259.2,254.9 260,252.3 261,253.8 262,251.3 262.8,250.8 263.7,250 264.5,249.9 265.3,250.7 266.2,247.5 267,248.8 267.8,247.3 268.7,248.5 269.5,247.3 270.3,248.4 271.2,245.8 272,247.5 272.9,247.4 273.7,245.5 274.6,247.3 275.4,245.2 276.3,247.3 277.1,245.3 278,246.9 278.9,244.2 279.7,245.4 280.6,243.7 281.5,244.5 282.4,242.5 283.2,242.1 284.1,243.5 285,243.4 285.8,241.2 286.7,242.9 287.6,241 288.5,242.4 289.4,240.4 290.3,242.7 291.2,239.6 292.1,242.1 293,239.5 294,240.9 295,238.9 296,240.5 296.9,241.2 297.8,239.2 298.7,241.8 299.6,238.9 300.5,241 301.4,239.1 302.3,241.3 303.8,234.6 304.7,236.7 305.7,235.3 306.6,237.7 307.6,237.1 308.5,235.4 309.5,235.3 310.6,233.4 311.6,229.4 312.7,229.4 313.7,225.1 314.8,225.1 315.8,223.5 316.9,220.3 317.9,220.4 319.4,215.7 320.2,219.6 321,219 321.8,222.3 323.3,229.9 324.9,213.7 325.9,213.1 327,209.9 328,209.1 329,206.2 330,204.2 330.8,204.7 331.7,199.7 332.5,197.5 333.3,199.4 334.2,197.5 335,197.4 336,196.3 337,197.7 338,198.3 339,194.1 340,194.3 341,196.8 341.9,192.7 342.7,189.6 343.6,193.9 344.4,193.9 345.3,199.3 346.1,194.4 347,194 347.9,191.2 348.7,192.8 349.5,189.8 350.4,189 351.2,192.2 352,191.4 353.1,194.9 354.2,193.5 355.1,197 356,196.1 356.8,199.1 357.6,198 358.5,201.3 359.3,203 360.1,198.9 361,196.2 361.9,196.3 362.7,194.4 363.5,194.4 364.4,193.2 365.2,193.5 366,196.5 367.1,190.6 368.2,189 369,186.1 369.9,186.5 370.7,185.9 371.5,189.6" fill="none" stroke="#000" stroke-width="1.9" stroke-linejoin="round"/>
<path d="M402.5 52.9V130.5H513.5" fill="none" stroke="#1a1a1a" stroke-width="1"/>
<line x1="399.8" y1="53.5" x2="402.5" y2="53.5" stroke="#222" stroke-width="0.9"/>
<text class="k" x="399.3" y="55.4" font-size="5.4" font-weight="bold" text-anchor="end" fill="#222">10</text>
<line x1="399.8" y1="68.9" x2="402.5" y2="68.9" stroke="#222" stroke-width="0.9"/>
<text class="k" x="399.3" y="70.8" font-size="5.4" font-weight="bold" text-anchor="end" fill="#222">9</text>
<line x1="399.8" y1="84.3" x2="402.5" y2="84.3" stroke="#222" stroke-width="0.9"/>
<text class="k" x="399.3" y="86.2" font-size="5.4" font-weight="bold" text-anchor="end" fill="#222">8</text>
<line x1="399.8" y1="99.7" x2="402.5" y2="99.7" stroke="#222" stroke-width="0.9"/>
<text class="k" x="399.3" y="101.6" font-size="5.4" font-weight="bold" text-anchor="end" fill="#222">7</text>
<line x1="399.8" y1="115.1" x2="402.5" y2="115.1" stroke="#222" stroke-width="0.9"/>
<text class="k" x="399.3" y="117" font-size="5.4" font-weight="bold" text-anchor="end" fill="#222">6</text>
<line x1="399.8" y1="130.5" x2="402.5" y2="130.5" stroke="#222" stroke-width="0.9"/>
<text class="k" x="399.3" y="132.4" font-size="5.4" font-weight="bold" text-anchor="end" fill="#222">5</text>
<line x1="413.9" y1="130.5" x2="413.9" y2="132.9" stroke="#222" stroke-width="0.9"/>
<text class="k" transform="translate(416.1 138.7) rotate(-45)" font-size="5.6" font-weight="bold" text-anchor="end" fill="#222">0</text>
<line x1="437.2" y1="130.5" x2="437.2" y2="132.9" stroke="#222" stroke-width="0.9"/>
<text class="k" transform="translate(439.4 138.7) rotate(-45)" font-size="5.6" font-weight="bold" text-anchor="end" fill="#222">10</text>
<line x1="460.6" y1="130.5" x2="460.6" y2="132.9" stroke="#222" stroke-width="0.9"/>
<text class="k" transform="translate(462.8 138.7) rotate(-45)" font-size="5.6" font-weight="bold" text-anchor="end" fill="#222">20</text>
<line x1="483.9" y1="130.5" x2="483.9" y2="132.9" stroke="#222" stroke-width="0.9"/>
<text class="k" transform="translate(486.1 138.7) rotate(-45)" font-size="5.6" font-weight="bold" text-anchor="end" fill="#222">40</text>
<line x1="507.2" y1="130.5" x2="507.2" y2="132.9" stroke="#222" stroke-width="0.9"/>
<text class="k" transform="translate(509.4 138.7) rotate(-45)" font-size="5.6" font-weight="bold" text-anchor="end" fill="#222">80</text>
<text x="375.2" y="38.5" font-size="11.3" font-weight="bold">G</text>
<text x="460.9" y="69.8" font-size="9" font-weight="bold" text-anchor="middle" textLength="9.5" lengthAdjust="spacingAndGlyphs">**</text>
<text x="484.1" y="70.4" font-size="9" font-weight="bold" text-anchor="middle" textLength="5" lengthAdjust="spacingAndGlyphs">*</text>
<path d="M402.5 179.3V257.5H513.5" fill="none" stroke="#1a1a1a" stroke-width="1"/>
<line x1="399.8" y1="179.7" x2="402.5" y2="179.7" stroke="#222" stroke-width="0.9"/>
<text class="k" x="399.3" y="181.6" font-size="5.4" font-weight="bold" text-anchor="end" fill="#222">10</text>
<line x1="399.8" y1="195.3" x2="402.5" y2="195.3" stroke="#222" stroke-width="0.9"/>
<text class="k" x="399.3" y="197.2" font-size="5.4" font-weight="bold" text-anchor="end" fill="#222">8</text>
<line x1="399.8" y1="210.8" x2="402.5" y2="210.8" stroke="#222" stroke-width="0.9"/>
<text class="k" x="399.3" y="212.7" font-size="5.4" font-weight="bold" text-anchor="end" fill="#222">6</text>
<line x1="399.8" y1="226.4" x2="402.5" y2="226.4" stroke="#222" stroke-width="0.9"/>
<text class="k" x="399.3" y="228.3" font-size="5.4" font-weight="bold" text-anchor="end" fill="#222">4</text>
<line x1="399.8" y1="241.9" x2="402.5" y2="241.9" stroke="#222" stroke-width="0.9"/>
<text class="k" x="399.3" y="243.8" font-size="5.4" font-weight="bold" text-anchor="end" fill="#222">2</text>
<line x1="399.8" y1="257.5" x2="402.5" y2="257.5" stroke="#222" stroke-width="0.9"/>
<text class="k" x="399.3" y="259.4" font-size="5.4" font-weight="bold" text-anchor="end" fill="#222">0</text>
<line x1="413.9" y1="257.5" x2="413.9" y2="259.9" stroke="#222" stroke-width="0.9"/>
<text class="k" transform="translate(416.1 265.7) rotate(-45)" font-size="5.6" font-weight="bold" text-anchor="end" fill="#222">0</text>
<line x1="437.2" y1="257.5" x2="437.2" y2="259.9" stroke="#222" stroke-width="0.9"/>
<text class="k" transform="translate(439.4 265.7) rotate(-45)" font-size="5.6" font-weight="bold" text-anchor="end" fill="#222">10</text>
<line x1="460.6" y1="257.5" x2="460.6" y2="259.9" stroke="#222" stroke-width="0.9"/>
<text class="k" transform="translate(462.8 265.7) rotate(-45)" font-size="5.6" font-weight="bold" text-anchor="end" fill="#222">20</text>
<line x1="483.9" y1="257.5" x2="483.9" y2="259.9" stroke="#222" stroke-width="0.9"/>
<text class="k" transform="translate(486.1 265.7) rotate(-45)" font-size="5.6" font-weight="bold" text-anchor="end" fill="#222">40</text>
<line x1="507.2" y1="257.5" x2="507.2" y2="259.9" stroke="#222" stroke-width="0.9"/>
<text class="k" transform="translate(509.4 265.7) rotate(-45)" font-size="5.6" font-weight="bold" text-anchor="end" fill="#222">80</text>
<text x="375.3" y="168.4" font-size="11.3" font-weight="bold">I</text>
<text x="485" y="195.4" font-size="9" font-weight="bold" text-anchor="middle" textLength="9.5" lengthAdjust="spacingAndGlyphs">**</text>
<text x="507.3" y="194.9" font-size="9" font-weight="bold" text-anchor="middle" textLength="5" lengthAdjust="spacingAndGlyphs">*</text>
<text class="k" transform="translate(388.7 91.9) rotate(-90)" font-size="6.3" font-weight="bold" text-anchor="middle" textLength="99" lengthAdjust="spacingAndGlyphs" fill="#111">Log [Total Fluorescence Intensity]</text>
<text class="k" transform="translate(388.7 219.2) rotate(-90)" font-size="6.3" font-weight="bold" text-anchor="middle" textLength="99" lengthAdjust="spacingAndGlyphs" fill="#111">Log [Total Fluorescence Intensity]</text>
<circle cx="413.8" cy="61" r="1.35" fill="#000"/><circle cx="409.7" cy="67.9" r="1.35" fill="#000"/><circle cx="414" cy="68" r="1.35" fill="#000"/><circle cx="418.6" cy="68.2" r="1.35" fill="#000"/><circle cx="410.3" cy="70.7" r="1.35" fill="#000"/><circle cx="415.2" cy="71" r="1.35" fill="#000"/><circle cx="419.2" cy="70.7" r="1.35" fill="#000"/><circle cx="408.5" cy="74.1" r="1.35" fill="#000"/><circle cx="412" cy="74.3" r="1.35" fill="#000"/><circle cx="416.2" cy="73.7" r="1.35" fill="#000"/><circle cx="419.5" cy="74" r="1.35" fill="#000"/><circle cx="410.8" cy="76.9" r="1.35" fill="#000"/><circle cx="414.3" cy="77" r="1.35" fill="#000"/><circle cx="418" cy="76.8" r="1.35" fill="#000"/><circle cx="409" cy="81.7" r="1.35" fill="#000"/><circle cx="412.8" cy="81.5" r="1.35" fill="#000"/><circle cx="417.3" cy="81.7" r="1.35" fill="#000"/><circle cx="410.2" cy="84.3" r="1.35" fill="#000"/><circle cx="414.5" cy="84.6" r="1.35" fill="#000"/><circle cx="418.5" cy="84.4" r="1.35" fill="#000"/><circle cx="408.8" cy="87.7" r="1.35" fill="#000"/><circle cx="412.3" cy="87.4" r="1.35" fill="#000"/><circle cx="416.6" cy="87.6" r="1.35" fill="#000"/><circle cx="420.5" cy="87.5" r="1.35" fill="#000"/><circle cx="410.4" cy="90.7" r="1.35" fill="#000"/><circle cx="414.1" cy="90.7" r="1.35" fill="#000"/><circle cx="418.4" cy="90.8" r="1.35" fill="#000"/><circle cx="411" cy="93.7" r="1.35" fill="#000"/><circle cx="415.7" cy="93.4" r="1.35" fill="#000"/>
<line x1="406.3" y1="79.4" x2="421.8" y2="79.4" stroke="#111" stroke-width="1"/>
<path d="M434.3 69.8l1.5 1.5l-1.5 1.5l-1.5 -1.5z" fill="#d02030"/><path d="M439.7 69.3l1.5 1.5l-1.5 1.5l-1.5 -1.5z" fill="#d02030"/><path d="M432.2 73.1l1.5 1.5l-1.5 1.5l-1.5 -1.5z" fill="#d02030"/><path d="M436.1 72.9l1.5 1.5l-1.5 1.5l-1.5 -1.5z" fill="#d02030"/><path d="M441.1 73.1l1.5 1.5l-1.5 1.5l-1.5 -1.5z" fill="#d02030"/><path d="M433 76.3l1.5 1.5l-1.5 1.5l-1.5 -1.5z" fill="#d02030"/><path d="M437 76.4l1.5 1.5l-1.5 1.5l-1.5 -1.5z" fill="#d02030"/><path d="M441.6 76.8l1.5 1.5l-1.5 1.5l-1.5 -1.5z" fill="#d02030"/><path d="M431.8 79.7l1.5 1.5l-1.5 1.5l-1.5 -1.5z" fill="#d02030"/><path d="M435.5 79.6l1.5 1.5l-1.5 1.5l-1.5 -1.5z" fill="#d02030"/><path d="M439.2 79.4l1.5 1.5l-1.5 1.5l-1.5 -1.5z" fill="#d02030"/><path d="M443.2 79.6l1.5 1.5l-1.5 1.5l-1.5 -1.5z" fill="#d02030"/><path d="M432.9 83.2l1.5 1.5l-1.5 1.5l-1.5 -1.5z" fill="#d02030"/><path d="M437 83l1.5 1.5l-1.5 1.5l-1.5 -1.5z" fill="#d02030"/><path d="M440.8 82.7l1.5 1.5l-1.5 1.5l-1.5 -1.5z" fill="#d02030"/><path d="M433.9 86.3l1.5 1.5l-1.5 1.5l-1.5 -1.5z" fill="#d02030"/><path d="M438 86.8l1.5 1.5l-1.5 1.5l-1.5 -1.5z" fill="#d02030"/><path d="M442.1 86.3l1.5 1.5l-1.5 1.5l-1.5 -1.5z" fill="#d02030"/><path d="M432.7 90.2l1.5 1.5l-1.5 1.5l-1.5 -1.5z" fill="#d02030"/><path d="M436.6 90.2l1.5 1.5l-1.5 1.5l-1.5 -1.5z" fill="#d02030"/><path d="M440.7 90.2l1.5 1.5l-1.5 1.5l-1.5 -1.5z" fill="#d02030"/><path d="M433.9 93.8l1.5 1.5l-1.5 1.5l-1.5 -1.5z" fill="#d02030"/><path d="M439.8 93.3l1.5 1.5l-1.5 1.5l-1.5 -1.5z" fill="#d02030"/><path d="M437.2 96.4l1.5 1.5l-1.5 1.5l-1.5 -1.5z" fill="#d02030"/>
<line x1="429" y1="80.9" x2="445.5" y2="80.9" stroke="#d02030" stroke-width="1"/>
<path d="M454.4 77.3h2.8l-1.4 2.5z" fill="#a8d0a8" stroke="#3a8a3a" stroke-width="0.7"/><path d="M458.8 77.4h2.8l-1.4 2.5z" fill="#a8d0a8" stroke="#3a8a3a" stroke-width="0.7"/><path d="M463.2 77h2.8l-1.4 2.5z" fill="#a8d0a8" stroke="#3a8a3a" stroke-width="0.7"/><path d="M453.3 81h2.8l-1.4 2.5z" fill="#a8d0a8" stroke="#3a8a3a" stroke-width="0.7"/><path d="M457.5 80.6h2.8l-1.4 2.5z" fill="#a8d0a8" stroke="#3a8a3a" stroke-width="0.7"/><path d="M461.9 80.8h2.8l-1.4 2.5z" fill="#a8d0a8" stroke="#3a8a3a" stroke-width="0.7"/><path d="M465.5 80.8h2.8l-1.4 2.5z" fill="#a8d0a8" stroke="#3a8a3a" stroke-width="0.7"/><path d="M455.2 84.1h2.8l-1.4 2.5z" fill="#a8d0a8" stroke="#3a8a3a" stroke-width="0.7"/><path d="M459.2 84.5h2.8l-1.4 2.5z" fill="#a8d0a8" stroke="#3a8a3a" stroke-width="0.7"/><path d="M463.1 84.4h2.8l-1.4 2.5z" fill="#a8d0a8" stroke="#3a8a3a" stroke-width="0.7"/><path d="M453.7 87.5h2.8l-1.4 2.5z" fill="#a8d0a8" stroke="#3a8a3a" stroke-width="0.7"/><path d="M457.8 87.9h2.8l-1.4 2.5z" fill="#a8d0a8" stroke="#3a8a3a" stroke-width="0.7"/><path d="M461.5 87.5h2.8l-1.4 2.5z" fill="#a8d0a8" stroke="#3a8a3a" stroke-width="0.7"/><path d="M465.8 87.8h2.8l-1.4 2.5z" fill="#a8d0a8" stroke="#3a8a3a" stroke-width="0.7"/><path d="M455.7 91.5h2.8l-1.4 2.5z" fill="#a8d0a8" stroke="#3a8a3a" stroke-width="0.7"/><path d="M459.7 91.6h2.8l-1.4 2.5z" fill="#a8d0a8" stroke="#3a8a3a" stroke-width="0.7"/><path d="M463.5 91.5h2.8l-1.4 2.5z" fill="#a8d0a8" stroke="#3a8a3a" stroke-width="0.7"/><path d="M454.6 95.1h2.8l-1.4 2.5z" fill="#a8d0a8" stroke="#3a8a3a" stroke-width="0.7"/><path d="M458.8 94.6h2.8l-1.4 2.5z" fill="#a8d0a8" stroke="#3a8a3a" stroke-width="0.7"/><path d="M462.4 94.6h2.8l-1.4 2.5z" fill="#a8d0a8" stroke="#3a8a3a" stroke-width="0.7"/><path d="M456.4 98.8h2.8l-1.4 2.5z" fill="#a8d0a8" stroke="#3a8a3a" stroke-width="0.7"/><path d="M461.2 98.7h2.8l-1.4 2.5z" fill="#a8d0a8" stroke="#3a8a3a" stroke-width="0.7"/><path d="M455.1 103.2h2.8l-1.4 2.5z" fill="#a8d0a8" stroke="#3a8a3a" stroke-width="0.7"/><path d="M459 103.4h2.8l-1.4 2.5z" fill="#a8d0a8" stroke="#3a8a3a" stroke-width="0.7"/><path d="M463.2 103.5h2.8l-1.4 2.5z" fill="#a8d0a8" stroke="#3a8a3a" stroke-width="0.7"/><path d="M459.5 120.1h2.8l-1.4 2.5z" fill="#a8d0a8" stroke="#3a8a3a" stroke-width="0.7"/>
<line x1="452.7" y1="88.4" x2="469" y2="88.4" stroke="#2a6a2a" stroke-width="1"/>
<path d="M477.8 75.6h3l-1.5 -2.6z" fill="#3848a8"/><path d="M487.9 75.6h3l-1.5 -2.6z" fill="#3848a8"/><path d="M479.2 78.7h3l-1.5 -2.6z" fill="#3848a8"/><path d="M483.8 79h3l-1.5 -2.6z" fill="#3848a8"/><path d="M487.7 78.6h3l-1.5 -2.6z" fill="#3848a8"/><path d="M477.5 81.7h3l-1.5 -2.6z" fill="#3848a8"/><path d="M481.3 81.6h3l-1.5 -2.6z" fill="#3848a8"/><path d="M485.3 82.1h3l-1.5 -2.6z" fill="#3848a8"/><path d="M476.2 85h3l-1.5 -2.6z" fill="#3848a8"/><path d="M480.2 84.6h3l-1.5 -2.6z" fill="#3848a8"/><path d="M483.9 84.9h3l-1.5 -2.6z" fill="#3848a8"/><path d="M488.1 85h3l-1.5 -2.6z" fill="#3848a8"/><path d="M477.7 89.1h3l-1.5 -2.6z" fill="#3848a8"/><path d="M481.6 89.4h3l-1.5 -2.6z" fill="#3848a8"/><path d="M485.5 89.1h3l-1.5 -2.6z" fill="#3848a8"/><path d="M489 89.1h3l-1.5 -2.6z" fill="#3848a8"/><path d="M478.8 92.5h3l-1.5 -2.6z" fill="#3848a8"/><path d="M482.5 92.2h3l-1.5 -2.6z" fill="#3848a8"/><path d="M486.7 92.3h3l-1.5 -2.6z" fill="#3848a8"/><path d="M482.7 102.5h3l-1.5 -2.6z" fill="#3848a8"/><path d="M482 113.6h3l-1.5 -2.6z" fill="#3848a8"/><path d="M487.1 112.6h3l-1.5 -2.6z" fill="#3848a8"/>
<line x1="476" y1="85.8" x2="492" y2="85.8" stroke="#3848a8" stroke-width="1"/>
<rect x="502.8" y="70.4" width="2.5" height="2.5" fill="#5a2890"/><rect x="506.9" y="70.5" width="2.5" height="2.5" fill="#5a2890"/><rect x="509.9" y="70.5" width="2.5" height="2.5" fill="#5a2890"/><rect x="501" y="73.2" width="2.5" height="2.5" fill="#5a2890"/><rect x="505" y="73.3" width="2.5" height="2.5" fill="#5a2890"/><rect x="508.5" y="73" width="2.5" height="2.5" fill="#5a2890"/><rect x="511.2" y="73.1" width="2.5" height="2.5" fill="#5a2890"/><rect x="501.8" y="76.3" width="2.5" height="2.5" fill="#5a2890"/><rect x="505" y="76.1" width="2.5" height="2.5" fill="#5a2890"/><rect x="508.6" y="76.5" width="2.5" height="2.5" fill="#5a2890"/><rect x="500.9" y="79" width="2.5" height="2.5" fill="#5a2890"/><rect x="503.9" y="79" width="2.5" height="2.5" fill="#5a2890"/><rect x="506.8" y="79" width="2.5" height="2.5" fill="#5a2890"/><rect x="509.5" y="79.5" width="2.5" height="2.5" fill="#5a2890"/><rect x="500.1" y="82.1" width="2.5" height="2.5" fill="#5a2890"/><rect x="503.5" y="82.5" width="2.5" height="2.5" fill="#5a2890"/><rect x="506.1" y="82.5" width="2.5" height="2.5" fill="#5a2890"/><rect x="509.3" y="82.4" width="2.5" height="2.5" fill="#5a2890"/><rect x="511.6" y="82.5" width="2.5" height="2.5" fill="#5a2890"/><rect x="500.9" y="85.5" width="2.5" height="2.5" fill="#5a2890"/><rect x="504" y="85.1" width="2.5" height="2.5" fill="#5a2890"/><rect x="506.7" y="85" width="2.5" height="2.5" fill="#5a2890"/><rect x="509.5" y="85" width="2.5" height="2.5" fill="#5a2890"/><rect x="501.1" y="88.3" width="2.5" height="2.5" fill="#5a2890"/><rect x="504" y="88.4" width="2.5" height="2.5" fill="#5a2890"/><rect x="507.2" y="88.1" width="2.5" height="2.5" fill="#5a2890"/><rect x="510.4" y="88.2" width="2.5" height="2.5" fill="#5a2890"/><rect x="502.6" y="91.2" width="2.5" height="2.5" fill="#5a2890"/><rect x="505.9" y="91" width="2.5" height="2.5" fill="#5a2890"/><rect x="509" y="91" width="2.5" height="2.5" fill="#5a2890"/><rect x="506" y="103.8" width="2.5" height="2.5" fill="#5a2890"/>
<line x1="499.5" y1="86.2" x2="515" y2="86.2" stroke="#5a2890" stroke-width="1"/>
<circle cx="409.2" cy="193.4" r="1.35" fill="#000"/><circle cx="413.6" cy="193.1" r="1.35" fill="#000"/><circle cx="407.7" cy="196.1" r="1.35" fill="#000"/><circle cx="412" cy="196.2" r="1.35" fill="#000"/><circle cx="416.2" cy="196.2" r="1.35" fill="#000"/><circle cx="419.4" cy="196.2" r="1.35" fill="#000"/><circle cx="409.6" cy="198.6" r="1.35" fill="#000"/><circle cx="413.5" cy="198.8" r="1.35" fill="#000"/><circle cx="417.5" cy="198.7" r="1.35" fill="#000"/><circle cx="408.2" cy="201.1" r="1.35" fill="#000"/><circle cx="412.2" cy="201.3" r="1.35" fill="#000"/><circle cx="416.2" cy="201.1" r="1.35" fill="#000"/><circle cx="419.8" cy="201.4" r="1.35" fill="#000"/><circle cx="410.2" cy="204.5" r="1.35" fill="#000"/><circle cx="413.8" cy="204.3" r="1.35" fill="#000"/><circle cx="418.1" cy="204.4" r="1.35" fill="#000"/><circle cx="408.8" cy="207.3" r="1.35" fill="#000"/><circle cx="412.3" cy="207.3" r="1.35" fill="#000"/><circle cx="416.4" cy="207.5" r="1.35" fill="#000"/><circle cx="409.7" cy="210" r="1.35" fill="#000"/><circle cx="414.1" cy="210.1" r="1.35" fill="#000"/><circle cx="418.2" cy="210.3" r="1.35" fill="#000"/><circle cx="409.7" cy="214.4" r="1.35" fill="#000"/><circle cx="409.6" cy="217.1" r="1.35" fill="#000"/><circle cx="416.6" cy="217" r="1.35" fill="#000"/><circle cx="415.7" cy="221.5" r="1.35" fill="#000"/><circle cx="418.8" cy="221.6" r="1.35" fill="#000"/><circle cx="413.9" cy="225.8" r="1.35" fill="#000"/>
<line x1="406.4" y1="202.6" x2="421.8" y2="202.6" stroke="#111" stroke-width="1"/>
<path d="M441.9 188.3l1.5 1.5l-1.5 1.5l-1.5 -1.5z" fill="#d02030"/><path d="M433.1 191.7l1.5 1.5l-1.5 1.5l-1.5 -1.5z" fill="#d02030"/><path d="M437.5 191.9l1.5 1.5l-1.5 1.5l-1.5 -1.5z" fill="#d02030"/><path d="M441.7 192l1.5 1.5l-1.5 1.5l-1.5 -1.5z" fill="#d02030"/><path d="M433.7 195.5l1.5 1.5l-1.5 1.5l-1.5 -1.5z" fill="#d02030"/><path d="M439.7 195.3l1.5 1.5l-1.5 1.5l-1.5 -1.5z" fill="#d02030"/><path d="M443 195.7l1.5 1.5l-1.5 1.5l-1.5 -1.5z" fill="#d02030"/><path d="M432.8 198.3l1.5 1.5l-1.5 1.5l-1.5 -1.5z" fill="#d02030"/><path d="M436.6 198.8l1.5 1.5l-1.5 1.5l-1.5 -1.5z" fill="#d02030"/><path d="M441 198.4l1.5 1.5l-1.5 1.5l-1.5 -1.5z" fill="#d02030"/><path d="M434.3 204.2l1.5 1.5l-1.5 1.5l-1.5 -1.5z" fill="#d02030"/><path d="M440.2 204.4l1.5 1.5l-1.5 1.5l-1.5 -1.5z" fill="#d02030"/><path d="M432.8 207.8l1.5 1.5l-1.5 1.5l-1.5 -1.5z" fill="#d02030"/><path d="M436.9 208.2l1.5 1.5l-1.5 1.5l-1.5 -1.5z" fill="#d02030"/><path d="M441.3 208l1.5 1.5l-1.5 1.5l-1.5 -1.5z" fill="#d02030"/><path d="M434.1 211.4l1.5 1.5l-1.5 1.5l-1.5 -1.5z" fill="#d02030"/><path d="M438.5 211.2l1.5 1.5l-1.5 1.5l-1.5 -1.5z" fill="#d02030"/><path d="M441.7 211.3l1.5 1.5l-1.5 1.5l-1.5 -1.5z" fill="#d02030"/><path d="M436.1 214.5l1.5 1.5l-1.5 1.5l-1.5 -1.5z" fill="#d02030"/><path d="M439.9 214.6l1.5 1.5l-1.5 1.5l-1.5 -1.5z" fill="#d02030"/><path d="M432.5 220.9l1.5 1.5l-1.5 1.5l-1.5 -1.5z" fill="#d02030"/><path d="M436.7 221.1l1.5 1.5l-1.5 1.5l-1.5 -1.5z" fill="#d02030"/><path d="M440.3 221l1.5 1.5l-1.5 1.5l-1.5 -1.5z" fill="#d02030"/><path d="M443.5 221.2l1.5 1.5l-1.5 1.5l-1.5 -1.5z" fill="#d02030"/>
<line x1="429" y1="203.5" x2="444.5" y2="203.5" stroke="#d02030" stroke-width="1"/>
<path d="M455.4 192.6h2.8l-1.4 2.5z" fill="#a8d0a8" stroke="#3a8a3a" stroke-width="0.7"/><path d="M460.9 192.4h2.8l-1.4 2.5z" fill="#a8d0a8" stroke="#3a8a3a" stroke-width="0.7"/><path d="M453.4 194.6h2.8l-1.4 2.5z" fill="#a8d0a8" stroke="#3a8a3a" stroke-width="0.7"/><path d="M457.9 194.6h2.8l-1.4 2.5z" fill="#a8d0a8" stroke="#3a8a3a" stroke-width="0.7"/><path d="M461.7 194.8h2.8l-1.4 2.5z" fill="#a8d0a8" stroke="#3a8a3a" stroke-width="0.7"/><path d="M464.6 194.8h2.8l-1.4 2.5z" fill="#a8d0a8" stroke="#3a8a3a" stroke-width="0.7"/><path d="M454.4 198h2.8l-1.4 2.5z" fill="#a8d0a8" stroke="#3a8a3a" stroke-width="0.7"/><path d="M458.9 197.6h2.8l-1.4 2.5z" fill="#a8d0a8" stroke="#3a8a3a" stroke-width="0.7"/><path d="M463.3 197.7h2.8l-1.4 2.5z" fill="#a8d0a8" stroke="#3a8a3a" stroke-width="0.7"/><path d="M454 201h2.8l-1.4 2.5z" fill="#a8d0a8" stroke="#3a8a3a" stroke-width="0.7"/><path d="M458 200.6h2.8l-1.4 2.5z" fill="#a8d0a8" stroke="#3a8a3a" stroke-width="0.7"/><path d="M462 201.1h2.8l-1.4 2.5z" fill="#a8d0a8" stroke="#3a8a3a" stroke-width="0.7"/><path d="M464.8 200.9h2.8l-1.4 2.5z" fill="#a8d0a8" stroke="#3a8a3a" stroke-width="0.7"/><path d="M454.5 207.4h2.8l-1.4 2.5z" fill="#a8d0a8" stroke="#3a8a3a" stroke-width="0.7"/><path d="M458.5 207.4h2.8l-1.4 2.5z" fill="#a8d0a8" stroke="#3a8a3a" stroke-width="0.7"/><path d="M463.1 207.4h2.8l-1.4 2.5z" fill="#a8d0a8" stroke="#3a8a3a" stroke-width="0.7"/><path d="M454.3 211.8h2.8l-1.4 2.5z" fill="#a8d0a8" stroke="#3a8a3a" stroke-width="0.7"/><path d="M458.4 211.5h2.8l-1.4 2.5z" fill="#a8d0a8" stroke="#3a8a3a" stroke-width="0.7"/><path d="M463.9 211.8h2.8l-1.4 2.5z" fill="#a8d0a8" stroke="#3a8a3a" stroke-width="0.7"/><path d="M458.4 217.1h2.8l-1.4 2.5z" fill="#a8d0a8" stroke="#3a8a3a" stroke-width="0.7"/><path d="M463.6 216.9h2.8l-1.4 2.5z" fill="#a8d0a8" stroke="#3a8a3a" stroke-width="0.7"/><path d="M454.3 223.2h2.8l-1.4 2.5z" fill="#a8d0a8" stroke="#3a8a3a" stroke-width="0.7"/><path d="M458.5 223.5h2.8l-1.4 2.5z" fill="#a8d0a8" stroke="#3a8a3a" stroke-width="0.7"/><path d="M459.2 228.3h2.8l-1.4 2.5z" fill="#a8d0a8" stroke="#3a8a3a" stroke-width="0.7"/>
<line x1="452.7" y1="206.5" x2="468.2" y2="206.5" stroke="#2a6a2a" stroke-width="1"/>
<path d="M478 203.2h3l-1.5 -2.6z" fill="#3848a8"/><path d="M481.8 203.5h3l-1.5 -2.6z" fill="#3848a8"/><path d="M485.7 203.3h3l-1.5 -2.6z" fill="#3848a8"/><path d="M476.7 206h3l-1.5 -2.6z" fill="#3848a8"/><path d="M480.5 206.4h3l-1.5 -2.6z" fill="#3848a8"/><path d="M484.2 206.2h3l-1.5 -2.6z" fill="#3848a8"/><path d="M488.6 206.3h3l-1.5 -2.6z" fill="#3848a8"/><path d="M479.6 212.1h3l-1.5 -2.6z" fill="#3848a8"/><path d="M484.3 212.1h3l-1.5 -2.6z" fill="#3848a8"/><path d="M478 216.6h3l-1.5 -2.6z" fill="#3848a8"/><path d="M482.6 216.5h3l-1.5 -2.6z" fill="#3848a8"/><path d="M486.4 216.4h3l-1.5 -2.6z" fill="#3848a8"/><path d="M479.8 219.7h3l-1.5 -2.6z" fill="#3848a8"/><path d="M484.6 219.9h3l-1.5 -2.6z" fill="#3848a8"/><path d="M477.5 223.1h3l-1.5 -2.6z" fill="#3848a8"/><path d="M481.4 223.1h3l-1.5 -2.6z" fill="#3848a8"/><path d="M485.9 223.5h3l-1.5 -2.6z" fill="#3848a8"/><path d="M479.3 227h3l-1.5 -2.6z" fill="#3848a8"/><path d="M484.7 226.5h3l-1.5 -2.6z" fill="#3848a8"/><path d="M481.9 231.8h3l-1.5 -2.6z" fill="#3848a8"/>
<line x1="476.4" y1="208.5" x2="491.8" y2="208.5" stroke="#3848a8" stroke-width="1"/>
<rect x="501.8" y="196.7" width="2.5" height="2.5" fill="#5a2890"/><rect x="505.8" y="196.6" width="2.5" height="2.5" fill="#5a2890"/><rect x="510.4" y="196.9" width="2.5" height="2.5" fill="#5a2890"/><rect x="500.3" y="199.5" width="2.5" height="2.5" fill="#5a2890"/><rect x="503.8" y="199.6" width="2.5" height="2.5" fill="#5a2890"/><rect x="507.1" y="200" width="2.5" height="2.5" fill="#5a2890"/><rect x="511" y="199.5" width="2.5" height="2.5" fill="#5a2890"/><rect x="502" y="202.8" width="2.5" height="2.5" fill="#5a2890"/><rect x="505.2" y="202.6" width="2.5" height="2.5" fill="#5a2890"/><rect x="508.9" y="202.7" width="2.5" height="2.5" fill="#5a2890"/><rect x="511.9" y="202.8" width="2.5" height="2.5" fill="#5a2890"/><rect x="500" y="205.9" width="2.5" height="2.5" fill="#5a2890"/><rect x="504" y="206" width="2.5" height="2.5" fill="#5a2890"/><rect x="507.3" y="205.5" width="2.5" height="2.5" fill="#5a2890"/><rect x="510.5" y="205.5" width="2.5" height="2.5" fill="#5a2890"/><rect x="502" y="208.6" width="2.5" height="2.5" fill="#5a2890"/><rect x="505.2" y="209" width="2.5" height="2.5" fill="#5a2890"/><rect x="508.6" y="208.8" width="2.5" height="2.5" fill="#5a2890"/><rect x="500.2" y="212" width="2.5" height="2.5" fill="#5a2890"/><rect x="503.8" y="212.5" width="2.5" height="2.5" fill="#5a2890"/><rect x="507" y="212.1" width="2.5" height="2.5" fill="#5a2890"/><rect x="510.7" y="212" width="2.5" height="2.5" fill="#5a2890"/><rect x="501.7" y="215.4" width="2.5" height="2.5" fill="#5a2890"/><rect x="505.3" y="215.3" width="2.5" height="2.5" fill="#5a2890"/><rect x="509.5" y="215" width="2.5" height="2.5" fill="#5a2890"/><rect x="500.3" y="218.2" width="2.5" height="2.5" fill="#5a2890"/><rect x="503.8" y="218" width="2.5" height="2.5" fill="#5a2890"/><rect x="507.4" y="218" width="2.5" height="2.5" fill="#5a2890"/><rect x="510.5" y="218.4" width="2.5" height="2.5" fill="#5a2890"/><rect x="502" y="221.2" width="2.5" height="2.5" fill="#5a2890"/><rect x="505.7" y="221.1" width="2.5" height="2.5" fill="#5a2890"/><rect x="509.1" y="221.3" width="2.5" height="2.5" fill="#5a2890"/><rect x="502.6" y="224" width="2.5" height="2.5" fill="#5a2890"/><rect x="506.7" y="224" width="2.5" height="2.5" fill="#5a2890"/><rect x="510.3" y="224.4" width="2.5" height="2.5" fill="#5a2890"/><rect x="503.9" y="227" width="2.5" height="2.5" fill="#5a2890"/><rect x="508.7" y="227" width="2.5" height="2.5" fill="#5a2890"/>
<line x1="499" y1="212.3" x2="515.5" y2="212.3" stroke="#5a2890" stroke-width="1"/>
</svg></body></html>
